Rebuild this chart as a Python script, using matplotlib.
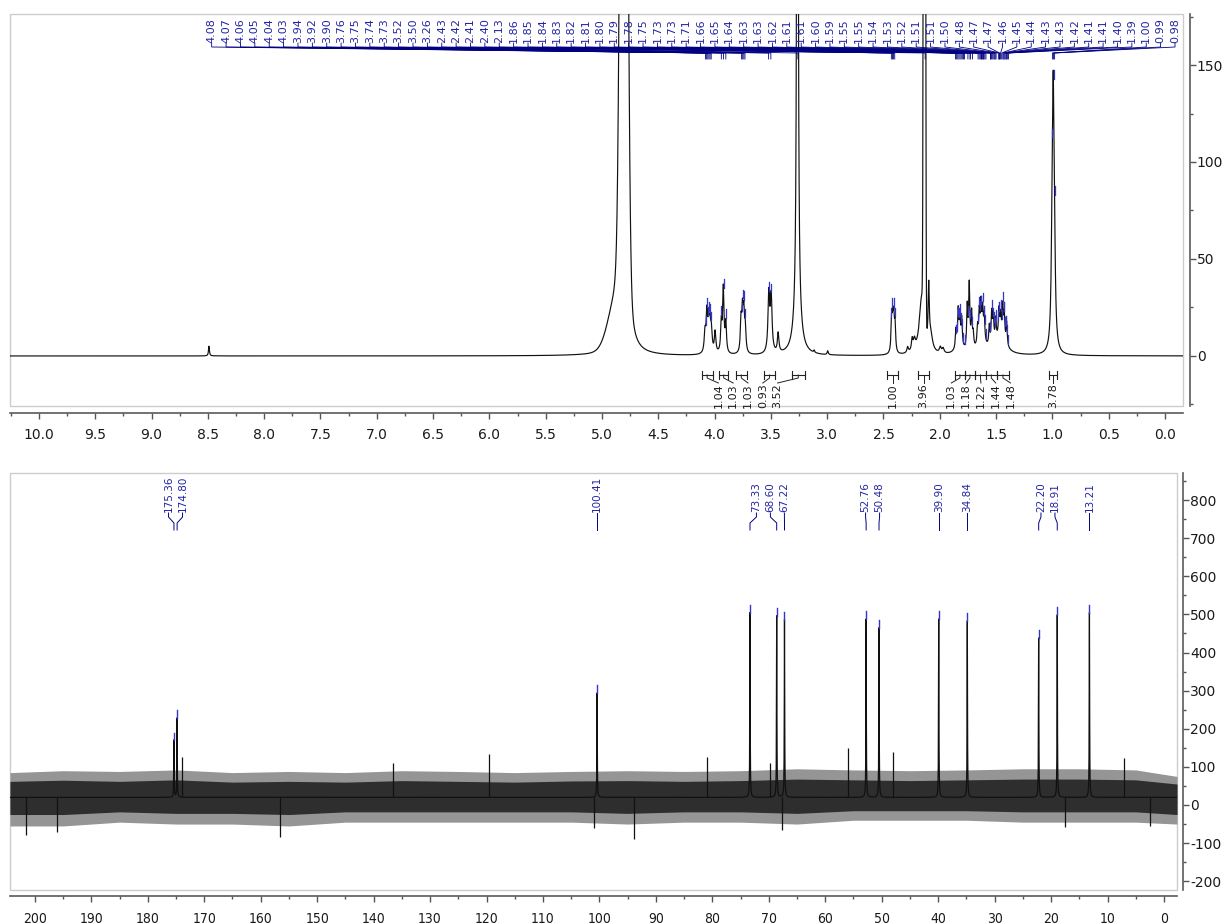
import numpy as np
import matplotlib
matplotlib.use("Agg")
import matplotlib.pyplot as plt
from matplotlib.patches import Rectangle
from matplotlib.ticker import MultipleLocator, FormatStrFormatter
import matplotlib.transforms as mtransforms

plt.rcParams['font.family'] = ['DejaVu Sans']
plt.rcParams['axes.unicode_minus'] = False

# ------------------------------------------------------------------
# 1H spectrum: Lorentzian lines (ppm, apex height, half width)
# ------------------------------------------------------------------
h1_peak_ppm = [8.49,
               4.805,
               4.085, 4.068, 4.052, 4.040, 4.028, 3.995,
               3.940, 3.922, 3.900,
               3.765, 3.752, 3.740, 3.727,
               3.518, 3.497, 3.435,
               3.264, 3.264, 3.115, 2.995,
               2.428, 2.418, 2.408, 2.397,
               2.285, 2.245, 2.225,
               2.16, 2.098, 2.08, 1.995, 1.97,
               1.856, 1.836, 1.821, 1.805, 1.83,
               1.756, 1.738, 1.717, 1.703,
               1.664, 1.649, 1.634, 1.619, 1.605, 1.63,
               1.560, 1.539, 1.525, 1.503,
               1.474, 1.459, 1.441, 1.427, 1.406, 1.47,
               1.002, 0.992, 0.982]
h1_peak_height = [5,
                  80,
                  10, 20, 13, 12, 10, 11,
                  15, 33, 15,
                  16, 20, 19, 12,
                  30, 28, 10,
                  1500, 28, 1.2, 2,
                  16, 16, 16, 14,
                  3, 6, 5,
                  30, 30, 8, 3, 2.5,
                  9, 17, 12, 14, 5,
                  22, 33, 18, 7,
                  9, 15, 18, 15, 13, 6,
                  10, 16, 14, 11,
                  14, 11, 17, 14, 12, 8,
                  45, 110, 38]
h1_peak_width = [0.005,
                 0.04,
                 0.008, 0.008, 0.008, 0.008, 0.008, 0.008,
                 0.007, 0.007, 0.007,
                 0.007, 0.007, 0.007, 0.007,
                 0.009, 0.009, 0.008,
                 0.0032, 0.03, 0.005, 0.006,
                 0.006, 0.006, 0.006, 0.006,
                 0.008, 0.008, 0.01,
                 0.025, 0.006, 0.02, 0.01, 0.01,
                 0.006, 0.006, 0.006, 0.006, 0.03,
                 0.006, 0.006, 0.006, 0.006,
                 0.006, 0.006, 0.006, 0.006, 0.006, 0.04,
                 0.006, 0.006, 0.006, 0.006,
                 0.006, 0.006, 0.006, 0.006, 0.006, 0.06,
                 0.009, 0.009, 0.009]

# Gaussian-shaped components (water signal and the sharp 2.13 singlet)
h1_gauss_ppm = [4.805, 4.88, 2.136]
h1_gauss_height = [600, 20, 1500]
h1_gauss_sigma = [0.025, 0.07, 0.006]

h1_pick_labels = [4.08, 4.07, 4.06, 4.05, 4.04, 4.03, 3.94, 3.92, 3.90, 3.76,
                  3.75, 3.74, 3.73, 3.52, 3.50, 3.26, 2.43, 2.42, 2.41, 2.40,
                  2.13, 1.86, 1.85, 1.84, 1.83, 1.82, 1.81, 1.80, 1.79, 1.78,
                  1.75, 1.73, 1.73, 1.71, 1.66, 1.65, 1.64, 1.63, 1.63, 1.62,
                  1.61, 1.61, 1.60, 1.59, 1.55, 1.55, 1.54, 1.53, 1.52, 1.51,
                  1.51, 1.50, 1.48, 1.47, 1.47, 1.46, 1.45, 1.44, 1.43, 1.43,
                  1.42, 1.41, 1.41, 1.40, 1.39, 1.00, 0.99, 0.98]

h1_int_from = [4.115, 3.959, 3.810, 3.559, 3.316, 2.467, 2.191,
               1.865, 1.777, 1.687, 1.590, 1.495, 1.028]
h1_int_to = [4.017, 3.879, 3.715, 3.464, 3.197, 2.367, 2.096,
             1.777, 1.687, 1.590, 1.495, 1.383, 0.962]
h1_int_values = ["1.04", "1.03", "1.03", "0.93", "3.52", "1.00", "3.96",
                 "1.03", "1.18", "1.22", "1.44", "1.48", "3.78"]

# ------------------------------------------------------------------
# 13C spectrum
# ------------------------------------------------------------------
c13_peak_ppm = [175.36, 174.80, 100.41, 73.33, 68.60, 67.22, 52.76, 50.48,
                39.90, 34.84, 22.20, 18.91, 13.21]
c13_peak_apex = [170, 228, 294, 505, 496, 486, 488, 465, 488, 483, 438, 499, 505]
c13_baseline = 20

noise_ppm = [204.4, 195, 185, 175, 165, 155, 145, 135, 125, 115, 105, 95,
             85, 75, 65, 55, 45, 35, 25, 15, 5, -2.3]
noise_upper = [85, 90, 88, 92, 85, 88, 85, 90, 88, 85, 88, 90,
               88, 90, 95, 92, 90, 92, 95, 95, 92, 75]
noise_lower = [-55, -55, -45, -50, -50, -55, -45, -45, -45, -45, -45, -50,
               -45, -45, -50, -40, -40, -40, -45, -45, -45, -50]
noise_core_upper = [62, 65, 62, 66, 60, 62, 60, 64, 62, 60, 63, 64,
                    62, 64, 68, 66, 64, 66, 68, 68, 66, 55]
noise_core_lower = [-25, -25, -18, -22, -22, -25, -18, -18, -18, -18, -18, -22,
                    -18, -18, -22, -15, -15, -15, -18, -18, -18, -25]

spike_ppm = [201.5, 196, 173.9, 156.5, 136.5, 119.5, 100.9, 93.8, 80.9,
             69.7, 67.6, 56.0, 48.0, 17.6, 7.0, 2.5]
spike_value = [-80, -70, 125, -85, 110, 135, -60, -88, 127,
               110, -66, 150, 140, -58, 122, -55]

# ------------------------------------------------------------------
FIG_W, FIG_H = 1225, 924
fig = plt.figure(figsize=(FIG_W / 100, FIG_H / 100), dpi=100)
fig.patch.set_facecolor('white')


def px_axes(l, t, r, b):
    return fig.add_axes([l / FIG_W, 1 - b / FIG_H, (r - l) / FIG_W, (b - t) / FIG_H])


ax1 = px_axes(10, 14, 1183, 406)
ax2 = px_axes(10, 473, 1177, 890)

ax1.set_xlim(10.257, -0.16)
ax1.set_ylim(-25.8, 176.3)
ax2.set_xlim(204.4, -2.3)
ax2.set_ylim(-223, 871)


def style(ax, xmaj, xmin, ymaj, ymin, xfmt, off_b, off_r, pad_x):
    ax.set_facecolor('white')
    ax.spines['top'].set_visible(False)
    ax.spines['left'].set_visible(False)
    for s in ('bottom', 'right'):
        ax.spines[s].set_color('#5a5a5a')
        ax.spines[s].set_linewidth(1.2)
    ax.spines['bottom'].set_position(('outward', off_b))
    ax.spines['right'].set_position(('outward', off_r))
    ax.yaxis.tick_right()
    ax.add_patch(Rectangle((0, 0), 1, 1, transform=ax.transAxes, fill=False,
                           ec='#cccccc', lw=1.0, clip_on=False, zorder=0))
    ax.xaxis.set_major_locator(MultipleLocator(xmaj))
    ax.xaxis.set_minor_locator(MultipleLocator(xmin))
    ax.yaxis.set_major_locator(MultipleLocator(ymaj))
    ax.yaxis.set_minor_locator(MultipleLocator(ymin))
    ax.xaxis.set_major_formatter(FormatStrFormatter(xfmt))
    ax.tick_params(axis='both', which='major', length=4, width=1, color='#555555',
                   labelsize=10, labelcolor='#1a1a1a', direction='out')
    ax.tick_params(axis='both', which='minor', length=2.5, width=1, color='#555555',
                   direction='out')
    ax.tick_params(axis='x', which='major', pad=pad_x)
    ax.tick_params(axis='y', which='major', pad=1)


style(ax1, 0.5, 0.25, 50, 25, '%.1f', 5, 5, 6.5)
style(ax2, 10, 5, 100, 50, '%d', 4.3, 4.3, 7.5)
for t in ax2.get_xticklabels():
    t.set_fontstretch('condensed')


def lorentz_sum(grid, centers, heights, widths):
    y = np.zeros_like(grid, dtype=float)
    for c, h, w in zip(centers, heights, widths):
        y += h / (1.0 + ((grid - c) / w) ** 2)
    return y


def gauss_sum(grid, centers, heights, sigmas):
    y = np.zeros_like(grid, dtype=float)
    for c, h, s in zip(centers, heights, sigmas):
        y += h * np.exp(-0.5 * ((grid - c) / s) ** 2)
    return y


def spec1(grid):
    return (lorentz_sum(grid, h1_peak_ppm, h1_peak_height, h1_peak_width)
            + gauss_sum(grid, h1_gauss_ppm, h1_gauss_height, h1_gauss_sigma))


# ---------------- 1H spectrum ----------------
g1 = np.arange(-0.2, 10.3, 0.0005)
s1 = spec1(g1)
ax1.plot(g1, s1, color='#111111', lw=0.85, zorder=3)


def yfrac(ax, ypx):
    bb = ax.get_position()
    yfig = 1 - ypx / FIG_H
    return (yfig - bb.y0) / bb.height


def x_from_px(ax, px):
    return ax.transData.inverted().transform((px, 0))[0]


def x_to_px(ax, x):
    return ax.transData.transform((x, 0))[0]


blend1 = mtransforms.blended_transform_factory(ax1.transData, ax1.transAxes)
blend2 = mtransforms.blended_transform_factory(ax2.transData, ax2.transAxes)

LAB_BLUE = '#2424a4'
LEAD_BLUE = '#000080'

# peak pick labels (1H) evenly spread across the top
n = len(h1_pick_labels)
lab_px = np.linspace(211.7, 1175, n)
for v, lp in zip(h1_pick_labels, lab_px):
    xl = x_from_px(ax1, lp)
    ax1.text(xl, yfrac(ax1, 43), f"{v:.2f}", rotation=90, ha='center', va='bottom',
             fontsize=8, color=LAB_BLUE, transform=blend1, clip_on=False, zorder=5)
    ax1.plot([xl, xl, v, v], [yfrac(ax1, 43), yfrac(ax1, 47), yfrac(ax1, 53), yfrac(ax1, 59)],
             color=LEAD_BLUE, lw=0.6, transform=blend1, clip_on=False, zorder=4)
    top = spec1(np.array([v]))[0]
    if top + 5 < 176:
        ax1.plot([v, v], [top + 0.5, top + 5], color='#3535c8', lw=0.9, zorder=4)


def spread(centers_px, spacing):
    c = np.asarray(centers_px, float)
    order = np.argsort(c)
    cs = c[order]
    groups = [[0]]
    for i in range(1, len(cs)):
        if cs[i] - cs[groups[-1][-1]] < 2 * spacing:
            groups[-1].append(i)
        else:
            groups.append([i])
    pos_sorted = np.empty_like(cs)
    for g in groups:
        m = cs[g].mean()
        k = len(g)
        for j, idx in enumerate(g):
            pos_sorted[idx] = m + (j - (k - 1) / 2) * spacing
    pos = np.empty_like(c)
    pos[order] = pos_sorted
    return pos


# integrals (1H)
int_centers = [(a + b) / 2 for a, b in zip(h1_int_from, h1_int_to)]
int_px = spread([x_to_px(ax1, c) for c in int_centers], 14.8)
yb, yt0, yt1 = yfrac(ax1, 375), yfrac(ax1, 371), yfrac(ax1, 379)
for a, b, c, lp, lab in zip(h1_int_from, h1_int_to, int_centers, int_px, h1_int_values):
    ax1.plot([a, b], [yb, yb], color='#222222', lw=0.8, transform=blend1)
    ax1.plot([a, a], [yt0, yt1], color='#222222', lw=0.8, transform=blend1)
    ax1.plot([b, b], [yt0, yt1], color='#222222', lw=0.8, transform=blend1)
    xl = x_from_px(ax1, lp)
    ax1.plot([c, c, xl], [yb, yfrac(ax1, 378), yfrac(ax1, 383)], color='#222222', lw=0.7,
             transform=blend1)
    ax1.text(xl, yfrac(ax1, 383.5), lab, rotation=90, ha='center', va='top', fontsize=8,
             color='#1a1a1a', transform=blend1, clip_on=False)

# ---------------- 13C spectrum ----------------
ax2.fill_between(noise_ppm, noise_lower, noise_upper, color='#959595', lw=0, zorder=1)
ax2.fill_between(noise_ppm, noise_core_lower, noise_core_upper, color='#2e2e2e', lw=0, zorder=1.5)
ax2.vlines(spike_ppm, c13_baseline, spike_value, color='#111111', lw=0.9, zorder=2)

g2 = np.arange(-2.5, 204.5, 0.005)
c13_w = [0.04] * len(c13_peak_ppm)
s2 = c13_baseline + lorentz_sum(g2, c13_peak_ppm,
                                [h - c13_baseline for h in c13_peak_apex], c13_w)
ax2.plot(g2, s2, color='#111111', lw=0.9, zorder=3)

for p, h in zip(c13_peak_ppm, c13_peak_apex):
    ax2.plot([p, p], [h, h + 20], color='#3535c8', lw=1.0, zorder=4)

c_px = spread([x_to_px(ax2, p) for p in c13_peak_ppm], 14.0)
for p, lp in zip(c13_peak_ppm, c_px):
    xl = x_from_px(ax2, lp)
    ax2.text(xl, yfrac(ax2, 512), f"{p:.2f}", rotation=90, ha='center', va='bottom',
             fontsize=7.5, color=LAB_BLUE, transform=blend2, clip_on=False)
    ax2.plot([xl, xl, p, p], [yfrac(ax2, 513), yfrac(ax2, 517), yfrac(ax2, 523), yfrac(ax2, 530)],
             color=LEAD_BLUE, lw=0.7, transform=blend2, clip_on=False)

fig.savefig('out.png', dpi=100, facecolor='white')
